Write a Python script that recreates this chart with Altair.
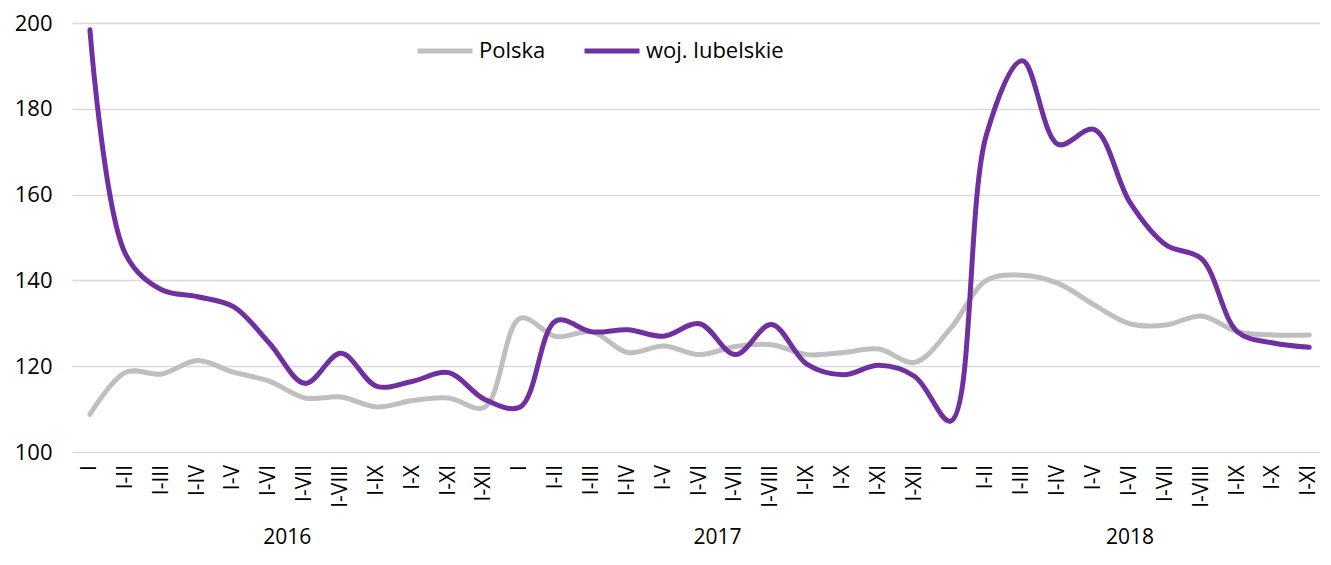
import altair as alt
import pandas as pd

months = ["I", "I-II", "I-III", "I-IV", "I-V", "I-VI", "I-VII", "I-VIII",
          "I-IX", "I-X", "I-XI", "I-XII"]
years = ["2016", "2017", "2018"]
year_pos = [5.5, 17.5, 29]

polska = [108.8, 118.6, 118.2, 121.3, 118.6, 116.5, 112.6, 112.8, 110.5, 112.0, 112.6, 110.4,
          131.2, 126.9, 128.0, 123.2, 124.7, 122.7, 124.6, 125.0, 122.7, 123.2, 124.0, 120.9,
          128.8, 140.0, 141.2, 139.3, 134.3, 129.9, 129.6, 131.7, 128.0, 127.3, 127.3]
lubelskie = [198.4, 146.0, 137.8, 136.2, 133.9, 125.4, 116.0, 123.0, 115.3, 116.5, 118.5, 112.3,
             110.5, 130.6, 128.0, 128.5, 127.0, 129.9, 122.7, 129.7, 120.4, 118.0, 120.2, 117.6,
             107.2, 174.0, 191.2, 171.7, 175.2, 158.2, 148.3, 145.0, 128.0, 125.4, 124.4]

series_names = ["Polska", "woj. lubelskie"]
colors = ["#bfbfbf", "#7030a0"]

rows = []
for name, vals in zip(series_names, [polska, lubelskie]):
    for i, v in enumerate(vals):
        rows.append({"idx": i, "series": name, "value": v})
df = pd.DataFrame(rows)
df_years = pd.DataFrame({"pos": year_pos, "year": years})
n = len(polska)
df_labels = pd.DataFrame({"idx": list(range(n)), "label": [months[i % 12] for i in range(n)]})

H = 429
FONT = "Open Sans"

xscale = alt.Scale(domain=[-0.5, 34.3], nice=False, zero=False)

lines = alt.Chart(df).mark_line(interpolate="catmull-rom", strokeWidth=5, strokeCap="round").encode(
    x=alt.X("idx:Q", scale=xscale, axis=None),
    y=alt.Y("value:Q", scale=alt.Scale(domain=[100, 200], nice=False, zero=False),
            axis=alt.Axis(values=[100, 120, 140, 160, 180, 200], grid=True, gridColor="#d9d9d9",
                          gridWidth=1.5, ticks=False, domain=False, labelPadding=20,
                          labelFontSize=22, labelFont=FONT, labelColor="#000000", title=None)),
    color=alt.Color("series:N", scale=alt.Scale(domain=series_names, range=colors),
                    legend=alt.Legend(orient="none", legendX=343, legendY=-2, direction="horizontal",
                                      title=None, symbolType="stroke", symbolSize=3025,
                                      symbolStrokeWidth=5, labelFontSize=22, labelFont=FONT,
                                      labelColor="#000000", columnPadding=28, labelOffset=4)),
)

x_labels = alt.Chart(df_labels).mark_text(angle=270, align="right", baseline="middle", fontSize=21,
                                          font=FONT, color="#000000").encode(
    x=alt.X("idx:Q", scale=xscale),
    y=alt.value(H + 13),
    text="label:N",
)

year_text = alt.Chart(df_years).mark_text(fontSize=21, font=FONT, color="#000000", baseline="middle").encode(
    x=alt.X("pos:Q", scale=xscale),
    y=alt.value(H + 86),
    text="year:N",
)

chart = alt.layer(lines, x_labels, year_text).properties(
    width=1248, height=H,
    padding={"left": 6, "top": 4, "right": 0, "bottom": 0},
).configure_view(stroke=None)

chart.save("out.html", embed_options={"renderer": "svg", "actions": False})
